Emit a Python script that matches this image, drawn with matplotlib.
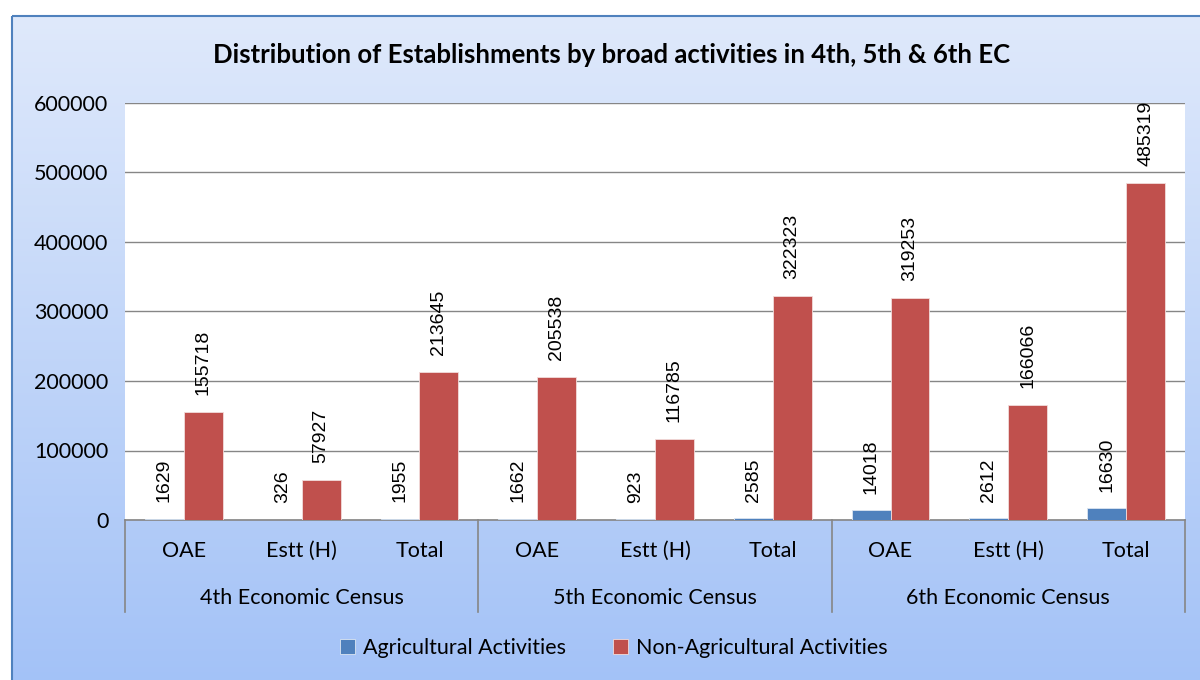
import numpy as np
import matplotlib
matplotlib.use('Agg')
import matplotlib.pyplot as plt
from matplotlib.patches import Rectangle
import matplotlib.transforms as mtransforms

plt.rcParams['font.family'] = ['Lato', 'DejaVu Sans']

# Data
groups = ['4th Economic Census', '5th Economic Census', '6th Economic Census']
subcats = ['OAE', 'Estt (H)', 'Total']
agri = [1629, 326, 1955, 1662, 923, 2585, 14018, 2612, 16630]
non_agri = [155718, 57927, 213645, 205538, 116785, 322323, 319253, 166066, 485319]
series_names = ['Agricultural Activities', 'Non-Agricultural Activities']
colors = ['#4f81bd', '#c0504d']

W, H = 1200, 680
fig = plt.figure(figsize=(12, 6.8), dpi=100)

# Background gradient with border
bg = fig.add_axes([0, 0, 1, 1], zorder=-10)
bg.set_xlim(0, W)
bg.set_ylim(H, 0)
bg.axis('off')
top_c = np.array([223, 233, 251]) / 255
bot_c = np.array([163, 194, 247]) / 255
t = np.linspace(0, 1, 256)[:, None, None]
grad = top_c * (1 - t) + bot_c * t
bg.imshow(grad, extent=[12, W + 5, H + 5, 16], aspect='auto')
bg.add_patch(Rectangle((12, 16), W, H, fill=False, edgecolor='#4f81bd', lw=1.5))

# Main axes (plot area)
x0, x1, y0, y1 = 125, 1185, 103, 520
ax = fig.add_axes([x0 / W, (H - y1) / H, (x1 - x0) / W, (y1 - y0) / H])
ax.set_facecolor('white')

x = np.arange(len(agri))
w = 0.33
b1 = ax.bar(x - w / 2, agri, w, color=colors[0], edgecolor='#dbe5f1', lw=0.6,
            label=series_names[0], zorder=3)
b2 = ax.bar(x + w / 2, non_agri, w, color=colors[1], edgecolor='#f2dcdb', lw=0.6,
            label=series_names[1], zorder=3)

for bars, vals in [(b1, agri), (b2, non_agri)]:
    for bar, v in zip(bars, vals):
        ax.annotate(str(v), (bar.get_x() + bar.get_width() / 2, v),
                    xytext=(0, 12), textcoords='offset points', rotation=90,
                    ha='center', va='bottom', fontsize=14,
                    family=['Liberation Sans', 'DejaVu Sans'])

ax.set_xlim(-0.5, len(agri) - 0.5)
ax.set_ylim(0, 600000)
ax.set_yticks(np.arange(0, 600001, 100000))
ax.tick_params(axis='y', length=0, labelsize=15.5, pad=12)
ax.set_xticks([])
ax.yaxis.grid(True, color='#868686', lw=1)
ax.set_axisbelow(True)
for s in ['left', 'right', 'top']:
    ax.spines[s].set_visible(False)
ax.spines['bottom'].set_color('#868686')
ax.spines['bottom'].set_linewidth(1.2)

# Two-level category axis
trans = mtransforms.blended_transform_factory(ax.transData, ax.transAxes)
y_line = -(612 - y1) / (y1 - y0)
for gx in [-0.5, 2.5, 5.5, 8.5]:
    ax.plot([gx, gx], [0, y_line], transform=trans, color='#868686', lw=1.2,
            clip_on=False)
for i in range(len(agri)):
    ax.text(i, -(551 - y1) / (y1 - y0), subcats[i % 3], transform=trans,
            ha='center', va='center', fontsize=15.5)
for g, name in enumerate(groups):
    ax.text(3 * g + 1, -(598 - y1) / (y1 - y0), name, transform=trans,
            ha='center', va='center', fontsize=15.5)

fig.text(612 / W, 1 - 55 / H,
         'Distribution of Establishments by broad activities in 4th, 5th & 6th EC',
         ha='center', va='center', fontsize=18.5, fontweight='bold')

fig.legend(loc='center', bbox_to_anchor=(614 / W, 1 - 648 / H), ncol=2,
           frameon=False, fontsize=15.5, handlelength=0.7, handleheight=0.7,
           handletextpad=0.35, columnspacing=2.2)

fig.savefig('out.png', dpi=100)
